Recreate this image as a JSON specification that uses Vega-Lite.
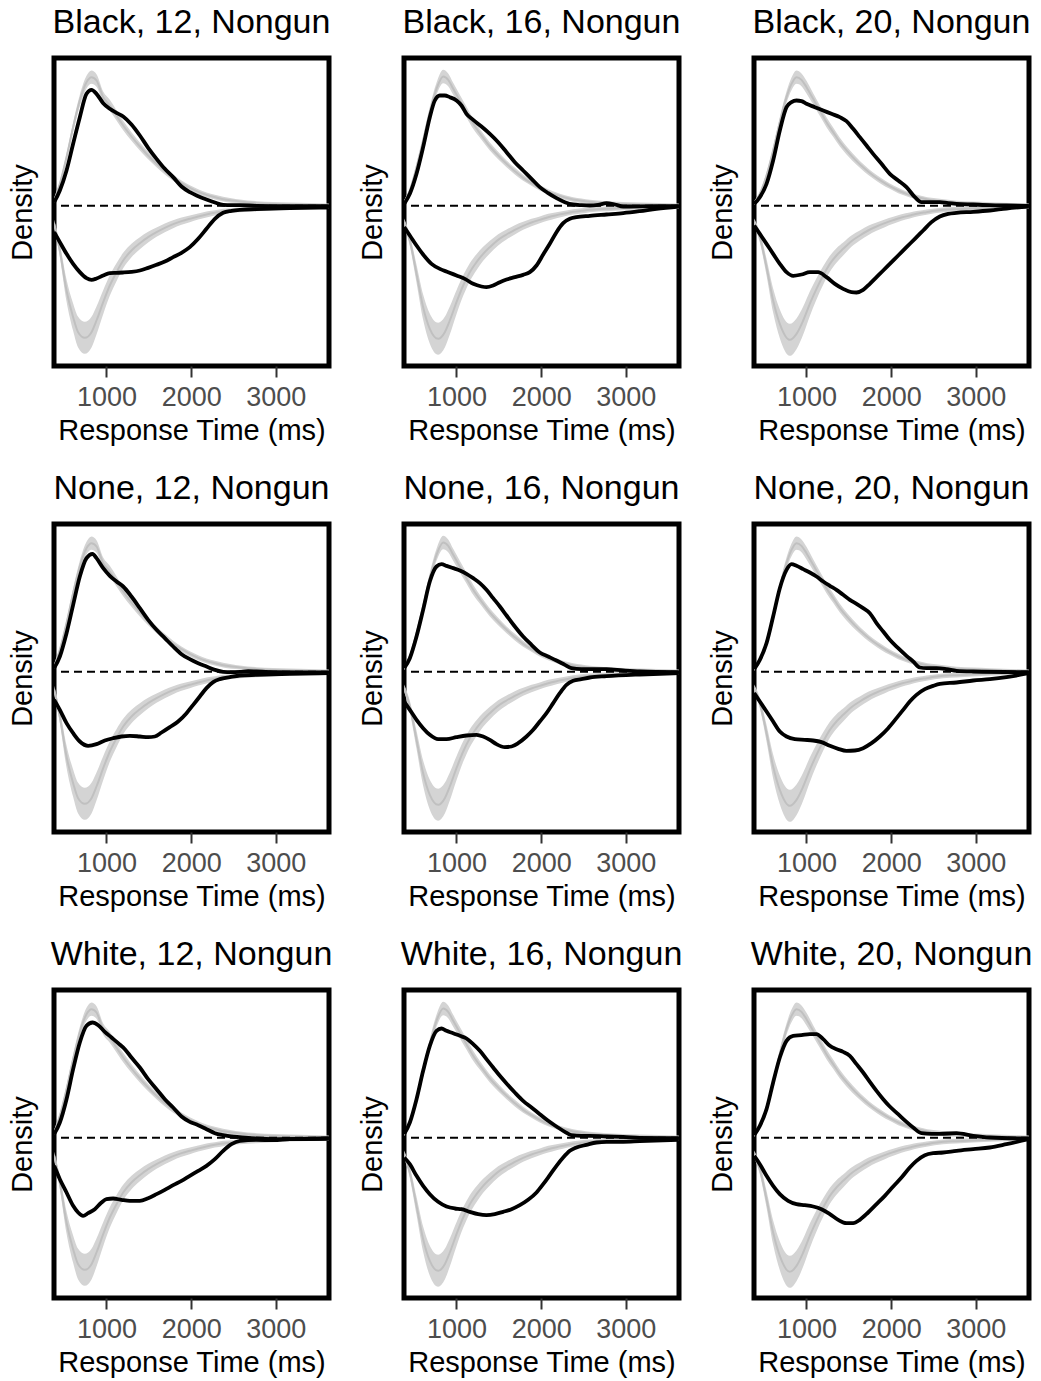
{
"$schema":"https://vega.github.io/schema/vega-lite/v6.json",
"background":"white",
"padding":{"left":5,"top":3,"right":5,"bottom":5},
"data":{"values":[
{"p":["Black, 12, Nongun","None, 12, Nongun","White, 12, Nongun"],"s":"mU","x":382,"y":0.016,"lo":0.009,"hi":0.023},
{"p":["Black, 12, Nongun","None, 12, Nongun","White, 12, Nongun"],"s":"mU","x":449,"y":0.066,"lo":0.058,"hi":0.074},
{"p":["Black, 12, Nongun","None, 12, Nongun","White, 12, Nongun"],"s":"mU","x":528,"y":0.146,"lo":0.135,"hi":0.157},
{"p":["Black, 12, Nongun","None, 12, Nongun","White, 12, Nongun"],"s":"mU","x":606,"y":0.236,"lo":0.222,"hi":0.250},
{"p":["Black, 12, Nongun","None, 12, Nongun","White, 12, Nongun"],"s":"mU","x":685,"y":0.316,"lo":0.299,"hi":0.333},
{"p":["Black, 12, Nongun","None, 12, Nongun","White, 12, Nongun"],"s":"mU","x":764,"y":0.371,"lo":0.352,"hi":0.390},
{"p":["Black, 12, Nongun","None, 12, Nongun","White, 12, Nongun"],"s":"mU","x":823,"y":0.386,"lo":0.366,"hi":0.406},
{"p":["Black, 12, Nongun","None, 12, Nongun","White, 12, Nongun"],"s":"mU","x":882,"y":0.376,"lo":0.357,"hi":0.395},
{"p":["Black, 12, Nongun","None, 12, Nongun","White, 12, Nongun"],"s":"mU","x":961,"y":0.326,"lo":0.309,"hi":0.343},
{"p":["Black, 12, Nongun","None, 12, Nongun","White, 12, Nongun"],"s":"mU","x":1039,"y":0.301,"lo":0.285,"hi":0.318},
{"p":["Black, 12, Nongun","None, 12, Nongun","White, 12, Nongun"],"s":"mU","x":1118,"y":0.271,"lo":0.256,"hi":0.287},
{"p":["Black, 12, Nongun","None, 12, Nongun","White, 12, Nongun"],"s":"mU","x":1197,"y":0.241,"lo":0.227,"hi":0.255},
{"p":["Black, 12, Nongun","None, 12, Nongun","White, 12, Nongun"],"s":"mU","x":1295,"y":0.208,"lo":0.195,"hi":0.221},
{"p":["Black, 12, Nongun","None, 12, Nongun","White, 12, Nongun"],"s":"mU","x":1394,"y":0.178,"lo":0.166,"hi":0.190},
{"p":["Black, 12, Nongun","None, 12, Nongun","White, 12, Nongun"],"s":"mU","x":1492,"y":0.151,"lo":0.140,"hi":0.162},
{"p":["Black, 12, Nongun","None, 12, Nongun","White, 12, Nongun"],"s":"mU","x":1591,"y":0.126,"lo":0.116,"hi":0.136},
{"p":["Black, 12, Nongun","None, 12, Nongun","White, 12, Nongun"],"s":"mU","x":1689,"y":0.104,"lo":0.094,"hi":0.114},
{"p":["Black, 12, Nongun","None, 12, Nongun","White, 12, Nongun"],"s":"mU","x":1787,"y":0.084,"lo":0.075,"hi":0.093},
{"p":["Black, 12, Nongun","None, 12, Nongun","White, 12, Nongun"],"s":"mU","x":1886,"y":0.068,"lo":0.060,"hi":0.076},
{"p":["Black, 12, Nongun","None, 12, Nongun","White, 12, Nongun"],"s":"mU","x":1984,"y":0.054,"lo":0.046,"hi":0.062},
{"p":["Black, 12, Nongun","None, 12, Nongun","White, 12, Nongun"],"s":"mU","x":2083,"y":0.042,"lo":0.035,"hi":0.050},
{"p":["Black, 12, Nongun","None, 12, Nongun","White, 12, Nongun"],"s":"mU","x":2181,"y":0.033,"lo":0.026,"hi":0.040},
{"p":["Black, 12, Nongun","None, 12, Nongun","White, 12, Nongun"],"s":"mU","x":2280,"y":0.026,"lo":0.019,"hi":0.033},
{"p":["Black, 12, Nongun","None, 12, Nongun","White, 12, Nongun"],"s":"mU","x":2378,"y":0.020,"lo":0.013,"hi":0.027},
{"p":["Black, 12, Nongun","None, 12, Nongun","White, 12, Nongun"],"s":"mU","x":2476,"y":0.016,"lo":0.009,"hi":0.023},
{"p":["Black, 12, Nongun","None, 12, Nongun","White, 12, Nongun"],"s":"mU","x":2575,"y":0.013,"lo":0.007,"hi":0.019},
{"p":["Black, 12, Nongun","None, 12, Nongun","White, 12, Nongun"],"s":"mU","x":2772,"y":0.008,"lo":0.002,"hi":0.014},
{"p":["Black, 12, Nongun","None, 12, Nongun","White, 12, Nongun"],"s":"mU","x":3165,"y":0.004,"lo":-0.002,"hi":0.010},
{"p":["Black, 12, Nongun","None, 12, Nongun","White, 12, Nongun"],"s":"mU","x":3626,"y":0.001,"lo":-0.005,"hi":0.007},
{"p":["Black, 12, Nongun","None, 12, Nongun","White, 12, Nongun"],"s":"mL","x":382,"y":-0.054,"lo":-0.066,"hi":-0.042},
{"p":["Black, 12, Nongun","None, 12, Nongun","White, 12, Nongun"],"s":"mL","x":449,"y":-0.134,"lo":-0.154,"hi":-0.114},
{"p":["Black, 12, Nongun","None, 12, Nongun","White, 12, Nongun"],"s":"mL","x":528,"y":-0.254,"lo":-0.287,"hi":-0.221},
{"p":["Black, 12, Nongun","None, 12, Nongun","White, 12, Nongun"],"s":"mL","x":606,"y":-0.334,"lo":-0.375,"hi":-0.293},
{"p":["Black, 12, Nongun","None, 12, Nongun","White, 12, Nongun"],"s":"mL","x":665,"y":-0.379,"lo":-0.425,"hi":-0.333},
{"p":["Black, 12, Nongun","None, 12, Nongun","White, 12, Nongun"],"s":"mL","x":744,"y":-0.396,"lo":-0.444,"hi":-0.348},
{"p":["Black, 12, Nongun","None, 12, Nongun","White, 12, Nongun"],"s":"mL","x":823,"y":-0.379,"lo":-0.425,"hi":-0.333},
{"p":["Black, 12, Nongun","None, 12, Nongun","White, 12, Nongun"],"s":"mL","x":882,"y":-0.344,"lo":-0.386,"hi":-0.302},
{"p":["Black, 12, Nongun","None, 12, Nongun","White, 12, Nongun"],"s":"mL","x":961,"y":-0.289,"lo":-0.325,"hi":-0.253},
{"p":["Black, 12, Nongun","None, 12, Nongun","White, 12, Nongun"],"s":"mL","x":1039,"y":-0.239,"lo":-0.270,"hi":-0.208},
{"p":["Black, 12, Nongun","None, 12, Nongun","White, 12, Nongun"],"s":"mL","x":1118,"y":-0.199,"lo":-0.226,"hi":-0.172},
{"p":["Black, 12, Nongun","None, 12, Nongun","White, 12, Nongun"],"s":"mL","x":1197,"y":-0.164,"lo":-0.187,"hi":-0.141},
{"p":["Black, 12, Nongun","None, 12, Nongun","White, 12, Nongun"],"s":"mL","x":1295,"y":-0.134,"lo":-0.154,"hi":-0.114},
{"p":["Black, 12, Nongun","None, 12, Nongun","White, 12, Nongun"],"s":"mL","x":1394,"y":-0.112,"lo":-0.130,"hi":-0.094},
{"p":["Black, 12, Nongun","None, 12, Nongun","White, 12, Nongun"],"s":"mL","x":1492,"y":-0.094,"lo":-0.110,"hi":-0.078},
{"p":["Black, 12, Nongun","None, 12, Nongun","White, 12, Nongun"],"s":"mL","x":1591,"y":-0.079,"lo":-0.093,"hi":-0.065},
{"p":["Black, 12, Nongun","None, 12, Nongun","White, 12, Nongun"],"s":"mL","x":1689,"y":-0.066,"lo":-0.079,"hi":-0.053},
{"p":["Black, 12, Nongun","None, 12, Nongun","White, 12, Nongun"],"s":"mL","x":1787,"y":-0.055,"lo":-0.067,"hi":-0.043},
{"p":["Black, 12, Nongun","None, 12, Nongun","White, 12, Nongun"],"s":"mL","x":1886,"y":-0.046,"lo":-0.057,"hi":-0.035},
{"p":["Black, 12, Nongun","None, 12, Nongun","White, 12, Nongun"],"s":"mL","x":1984,"y":-0.039,"lo":-0.049,"hi":-0.029},
{"p":["Black, 12, Nongun","None, 12, Nongun","White, 12, Nongun"],"s":"mL","x":2083,"y":-0.032,"lo":-0.041,"hi":-0.023},
{"p":["Black, 12, Nongun","None, 12, Nongun","White, 12, Nongun"],"s":"mL","x":2181,"y":-0.026,"lo":-0.035,"hi":-0.017},
{"p":["Black, 12, Nongun","None, 12, Nongun","White, 12, Nongun"],"s":"mL","x":2280,"y":-0.021,"lo":-0.029,"hi":-0.013},
{"p":["Black, 12, Nongun","None, 12, Nongun","White, 12, Nongun"],"s":"mL","x":2378,"y":-0.017,"lo":-0.025,"hi":-0.009},
{"p":["Black, 12, Nongun","None, 12, Nongun","White, 12, Nongun"],"s":"mL","x":2476,"y":-0.014,"lo":-0.021,"hi":-0.007},
{"p":["Black, 12, Nongun","None, 12, Nongun","White, 12, Nongun"],"s":"mL","x":2575,"y":-0.012,"lo":-0.019,"hi":-0.005},
{"p":["Black, 12, Nongun","None, 12, Nongun","White, 12, Nongun"],"s":"mL","x":2772,"y":-0.009,"lo":-0.016,"hi":-0.002},
{"p":["Black, 12, Nongun","None, 12, Nongun","White, 12, Nongun"],"s":"mL","x":3165,"y":-0.005,"lo":-0.011,"hi":0.001},
{"p":["Black, 12, Nongun","None, 12, Nongun","White, 12, Nongun"],"s":"mL","x":3626,"y":-0.003,"lo":-0.009,"hi":0.003},
{"p":["Black, 16, Nongun","None, 16, Nongun","White, 16, Nongun"],"s":"mU","x":382,"y":0.011,"lo":0.005,"hi":0.017},
{"p":["Black, 16, Nongun","None, 16, Nongun","White, 16, Nongun"],"s":"mU","x":449,"y":0.046,"lo":0.038,"hi":0.054},
{"p":["Black, 16, Nongun","None, 16, Nongun","White, 16, Nongun"],"s":"mU","x":528,"y":0.116,"lo":0.106,"hi":0.126},
{"p":["Black, 16, Nongun","None, 16, Nongun","White, 16, Nongun"],"s":"mU","x":606,"y":0.196,"lo":0.183,"hi":0.209},
{"p":["Black, 16, Nongun","None, 16, Nongun","White, 16, Nongun"],"s":"mU","x":685,"y":0.281,"lo":0.265,"hi":0.297},
{"p":["Black, 16, Nongun","None, 16, Nongun","White, 16, Nongun"],"s":"mU","x":764,"y":0.351,"lo":0.333,"hi":0.369},
{"p":["Black, 16, Nongun","None, 16, Nongun","White, 16, Nongun"],"s":"mU","x":843,"y":0.388,"lo":0.368,"hi":0.408},
{"p":["Black, 16, Nongun","None, 16, Nongun","White, 16, Nongun"],"s":"mU","x":902,"y":0.378,"lo":0.359,"hi":0.397},
{"p":["Black, 16, Nongun","None, 16, Nongun","White, 16, Nongun"],"s":"mU","x":961,"y":0.351,"lo":0.333,"hi":0.369},
{"p":["Black, 16, Nongun","None, 16, Nongun","White, 16, Nongun"],"s":"mU","x":1039,"y":0.316,"lo":0.299,"hi":0.333},
{"p":["Black, 16, Nongun","None, 16, Nongun","White, 16, Nongun"],"s":"mU","x":1118,"y":0.281,"lo":0.265,"hi":0.297},
{"p":["Black, 16, Nongun","None, 16, Nongun","White, 16, Nongun"],"s":"mU","x":1197,"y":0.246,"lo":0.231,"hi":0.261},
{"p":["Black, 16, Nongun","None, 16, Nongun","White, 16, Nongun"],"s":"mU","x":1295,"y":0.211,"lo":0.198,"hi":0.224},
{"p":["Black, 16, Nongun","None, 16, Nongun","White, 16, Nongun"],"s":"mU","x":1394,"y":0.178,"lo":0.166,"hi":0.190},
{"p":["Black, 16, Nongun","None, 16, Nongun","White, 16, Nongun"],"s":"mU","x":1492,"y":0.151,"lo":0.140,"hi":0.162},
{"p":["Black, 16, Nongun","None, 16, Nongun","White, 16, Nongun"],"s":"mU","x":1591,"y":0.126,"lo":0.116,"hi":0.136},
{"p":["Black, 16, Nongun","None, 16, Nongun","White, 16, Nongun"],"s":"mU","x":1689,"y":0.104,"lo":0.094,"hi":0.114},
{"p":["Black, 16, Nongun","None, 16, Nongun","White, 16, Nongun"],"s":"mU","x":1787,"y":0.084,"lo":0.075,"hi":0.093},
{"p":["Black, 16, Nongun","None, 16, Nongun","White, 16, Nongun"],"s":"mU","x":1886,"y":0.068,"lo":0.060,"hi":0.076},
{"p":["Black, 16, Nongun","None, 16, Nongun","White, 16, Nongun"],"s":"mU","x":1984,"y":0.054,"lo":0.046,"hi":0.062},
{"p":["Black, 16, Nongun","None, 16, Nongun","White, 16, Nongun"],"s":"mU","x":2083,"y":0.042,"lo":0.035,"hi":0.050},
{"p":["Black, 16, Nongun","None, 16, Nongun","White, 16, Nongun"],"s":"mU","x":2181,"y":0.033,"lo":0.026,"hi":0.040},
{"p":["Black, 16, Nongun","None, 16, Nongun","White, 16, Nongun"],"s":"mU","x":2280,"y":0.025,"lo":0.018,"hi":0.032},
{"p":["Black, 16, Nongun","None, 16, Nongun","White, 16, Nongun"],"s":"mU","x":2378,"y":0.019,"lo":0.012,"hi":0.026},
{"p":["Black, 16, Nongun","None, 16, Nongun","White, 16, Nongun"],"s":"mU","x":2476,"y":0.015,"lo":0.008,"hi":0.022},
{"p":["Black, 16, Nongun","None, 16, Nongun","White, 16, Nongun"],"s":"mU","x":2575,"y":0.012,"lo":0.006,"hi":0.018},
{"p":["Black, 16, Nongun","None, 16, Nongun","White, 16, Nongun"],"s":"mU","x":2772,"y":0.008,"lo":0.002,"hi":0.014},
{"p":["Black, 16, Nongun","None, 16, Nongun","White, 16, Nongun"],"s":"mU","x":3165,"y":0.004,"lo":-0.002,"hi":0.010},
{"p":["Black, 16, Nongun","None, 16, Nongun","White, 16, Nongun"],"s":"mU","x":3626,"y":0.001,"lo":-0.005,"hi":0.007},
{"p":["Black, 16, Nongun","None, 16, Nongun","White, 16, Nongun"],"s":"mL","x":382,"y":-0.049,"lo":-0.060,"hi":-0.038},
{"p":["Black, 16, Nongun","None, 16, Nongun","White, 16, Nongun"],"s":"mL","x":449,"y":-0.104,"lo":-0.121,"hi":-0.087},
{"p":["Black, 16, Nongun","None, 16, Nongun","White, 16, Nongun"],"s":"mL","x":528,"y":-0.204,"lo":-0.231,"hi":-0.177},
{"p":["Black, 16, Nongun","None, 16, Nongun","White, 16, Nongun"],"s":"mL","x":606,"y":-0.304,"lo":-0.342,"hi":-0.266},
{"p":["Black, 16, Nongun","None, 16, Nongun","White, 16, Nongun"],"s":"mL","x":685,"y":-0.369,"lo":-0.414,"hi":-0.324},
{"p":["Black, 16, Nongun","None, 16, Nongun","White, 16, Nongun"],"s":"mL","x":783,"y":-0.399,"lo":-0.447,"hi":-0.351},
{"p":["Black, 16, Nongun","None, 16, Nongun","White, 16, Nongun"],"s":"mL","x":862,"y":-0.379,"lo":-0.425,"hi":-0.333},
{"p":["Black, 16, Nongun","None, 16, Nongun","White, 16, Nongun"],"s":"mL","x":921,"y":-0.344,"lo":-0.386,"hi":-0.302},
{"p":["Black, 16, Nongun","None, 16, Nongun","White, 16, Nongun"],"s":"mL","x":1000,"y":-0.289,"lo":-0.325,"hi":-0.253},
{"p":["Black, 16, Nongun","None, 16, Nongun","White, 16, Nongun"],"s":"mL","x":1079,"y":-0.239,"lo":-0.270,"hi":-0.208},
{"p":["Black, 16, Nongun","None, 16, Nongun","White, 16, Nongun"],"s":"mL","x":1157,"y":-0.199,"lo":-0.226,"hi":-0.172},
{"p":["Black, 16, Nongun","None, 16, Nongun","White, 16, Nongun"],"s":"mL","x":1236,"y":-0.169,"lo":-0.193,"hi":-0.145},
{"p":["Black, 16, Nongun","None, 16, Nongun","White, 16, Nongun"],"s":"mL","x":1315,"y":-0.144,"lo":-0.165,"hi":-0.123},
{"p":["Black, 16, Nongun","None, 16, Nongun","White, 16, Nongun"],"s":"mL","x":1394,"y":-0.124,"lo":-0.143,"hi":-0.105},
{"p":["Black, 16, Nongun","None, 16, Nongun","White, 16, Nongun"],"s":"mL","x":1492,"y":-0.102,"lo":-0.119,"hi":-0.085},
{"p":["Black, 16, Nongun","None, 16, Nongun","White, 16, Nongun"],"s":"mL","x":1591,"y":-0.086,"lo":-0.101,"hi":-0.071},
{"p":["Black, 16, Nongun","None, 16, Nongun","White, 16, Nongun"],"s":"mL","x":1689,"y":-0.072,"lo":-0.086,"hi":-0.058},
{"p":["Black, 16, Nongun","None, 16, Nongun","White, 16, Nongun"],"s":"mL","x":1787,"y":-0.060,"lo":-0.072,"hi":-0.048},
{"p":["Black, 16, Nongun","None, 16, Nongun","White, 16, Nongun"],"s":"mL","x":1886,"y":-0.050,"lo":-0.061,"hi":-0.039},
{"p":["Black, 16, Nongun","None, 16, Nongun","White, 16, Nongun"],"s":"mL","x":1984,"y":-0.042,"lo":-0.052,"hi":-0.032},
{"p":["Black, 16, Nongun","None, 16, Nongun","White, 16, Nongun"],"s":"mL","x":2083,"y":-0.034,"lo":-0.044,"hi":-0.024},
{"p":["Black, 16, Nongun","None, 16, Nongun","White, 16, Nongun"],"s":"mL","x":2181,"y":-0.028,"lo":-0.037,"hi":-0.019},
{"p":["Black, 16, Nongun","None, 16, Nongun","White, 16, Nongun"],"s":"mL","x":2280,"y":-0.023,"lo":-0.031,"hi":-0.015},
{"p":["Black, 16, Nongun","None, 16, Nongun","White, 16, Nongun"],"s":"mL","x":2378,"y":-0.018,"lo":-0.026,"hi":-0.010},
{"p":["Black, 16, Nongun","None, 16, Nongun","White, 16, Nongun"],"s":"mL","x":2476,"y":-0.015,"lo":-0.023,"hi":-0.007},
{"p":["Black, 16, Nongun","None, 16, Nongun","White, 16, Nongun"],"s":"mL","x":2575,"y":-0.012,"lo":-0.019,"hi":-0.005},
{"p":["Black, 16, Nongun","None, 16, Nongun","White, 16, Nongun"],"s":"mL","x":2772,"y":-0.009,"lo":-0.016,"hi":-0.002},
{"p":["Black, 16, Nongun","None, 16, Nongun","White, 16, Nongun"],"s":"mL","x":3165,"y":-0.005,"lo":-0.011,"hi":0.001},
{"p":["Black, 16, Nongun","None, 16, Nongun","White, 16, Nongun"],"s":"mL","x":3626,"y":-0.003,"lo":-0.009,"hi":0.003},
{"p":["Black, 20, Nongun","None, 20, Nongun","White, 20, Nongun"],"s":"mU","x":382,"y":0.008,"lo":0.002,"hi":0.014},
{"p":["Black, 20, Nongun","None, 20, Nongun","White, 20, Nongun"],"s":"mU","x":449,"y":0.036,"lo":0.029,"hi":0.043},
{"p":["Black, 20, Nongun","None, 20, Nongun","White, 20, Nongun"],"s":"mU","x":528,"y":0.091,"lo":0.082,"hi":0.100},
{"p":["Black, 20, Nongun","None, 20, Nongun","White, 20, Nongun"],"s":"mU","x":606,"y":0.166,"lo":0.154,"hi":0.178},
{"p":["Black, 20, Nongun","None, 20, Nongun","White, 20, Nongun"],"s":"mU","x":685,"y":0.251,"lo":0.236,"hi":0.266},
{"p":["Black, 20, Nongun","None, 20, Nongun","White, 20, Nongun"],"s":"mU","x":764,"y":0.326,"lo":0.309,"hi":0.343},
{"p":["Black, 20, Nongun","None, 20, Nongun","White, 20, Nongun"],"s":"mU","x":823,"y":0.366,"lo":0.347,"hi":0.385},
{"p":["Black, 20, Nongun","None, 20, Nongun","White, 20, Nongun"],"s":"mU","x":882,"y":0.386,"lo":0.366,"hi":0.406},
{"p":["Black, 20, Nongun","None, 20, Nongun","White, 20, Nongun"],"s":"mU","x":941,"y":0.378,"lo":0.359,"hi":0.397},
{"p":["Black, 20, Nongun","None, 20, Nongun","White, 20, Nongun"],"s":"mU","x":1000,"y":0.356,"lo":0.337,"hi":0.375},
{"p":["Black, 20, Nongun","None, 20, Nongun","White, 20, Nongun"],"s":"mU","x":1079,"y":0.321,"lo":0.304,"hi":0.338},
{"p":["Black, 20, Nongun","None, 20, Nongun","White, 20, Nongun"],"s":"mU","x":1157,"y":0.286,"lo":0.270,"hi":0.302},
{"p":["Black, 20, Nongun","None, 20, Nongun","White, 20, Nongun"],"s":"mU","x":1236,"y":0.251,"lo":0.236,"hi":0.266},
{"p":["Black, 20, Nongun","None, 20, Nongun","White, 20, Nongun"],"s":"mU","x":1315,"y":0.221,"lo":0.207,"hi":0.235},
{"p":["Black, 20, Nongun","None, 20, Nongun","White, 20, Nongun"],"s":"mU","x":1394,"y":0.191,"lo":0.178,"hi":0.204},
{"p":["Black, 20, Nongun","None, 20, Nongun","White, 20, Nongun"],"s":"mU","x":1492,"y":0.161,"lo":0.149,"hi":0.173},
{"p":["Black, 20, Nongun","None, 20, Nongun","White, 20, Nongun"],"s":"mU","x":1591,"y":0.134,"lo":0.123,"hi":0.145},
{"p":["Black, 20, Nongun","None, 20, Nongun","White, 20, Nongun"],"s":"mU","x":1689,"y":0.111,"lo":0.101,"hi":0.121},
{"p":["Black, 20, Nongun","None, 20, Nongun","White, 20, Nongun"],"s":"mU","x":1787,"y":0.091,"lo":0.082,"hi":0.100},
{"p":["Black, 20, Nongun","None, 20, Nongun","White, 20, Nongun"],"s":"mU","x":1886,"y":0.074,"lo":0.065,"hi":0.083},
{"p":["Black, 20, Nongun","None, 20, Nongun","White, 20, Nongun"],"s":"mU","x":1984,"y":0.059,"lo":0.051,"hi":0.067},
{"p":["Black, 20, Nongun","None, 20, Nongun","White, 20, Nongun"],"s":"mU","x":2083,"y":0.046,"lo":0.038,"hi":0.054},
{"p":["Black, 20, Nongun","None, 20, Nongun","White, 20, Nongun"],"s":"mU","x":2181,"y":0.036,"lo":0.029,"hi":0.043},
{"p":["Black, 20, Nongun","None, 20, Nongun","White, 20, Nongun"],"s":"mU","x":2280,"y":0.028,"lo":0.021,"hi":0.035},
{"p":["Black, 20, Nongun","None, 20, Nongun","White, 20, Nongun"],"s":"mU","x":2378,"y":0.022,"lo":0.015,"hi":0.029},
{"p":["Black, 20, Nongun","None, 20, Nongun","White, 20, Nongun"],"s":"mU","x":2476,"y":0.017,"lo":0.010,"hi":0.024},
{"p":["Black, 20, Nongun","None, 20, Nongun","White, 20, Nongun"],"s":"mU","x":2575,"y":0.014,"lo":0.007,"hi":0.021},
{"p":["Black, 20, Nongun","None, 20, Nongun","White, 20, Nongun"],"s":"mU","x":2772,"y":0.009,"lo":0.003,"hi":0.015},
{"p":["Black, 20, Nongun","None, 20, Nongun","White, 20, Nongun"],"s":"mU","x":3165,"y":0.005,"lo":-0.001,"hi":0.011},
{"p":["Black, 20, Nongun","None, 20, Nongun","White, 20, Nongun"],"s":"mU","x":3626,"y":0.001,"lo":-0.005,"hi":0.007},
{"p":["Black, 20, Nongun","None, 20, Nongun","White, 20, Nongun"],"s":"mL","x":382,"y":-0.049,"lo":-0.060,"hi":-0.038},
{"p":["Black, 20, Nongun","None, 20, Nongun","White, 20, Nongun"],"s":"mL","x":449,"y":-0.094,"lo":-0.110,"hi":-0.078},
{"p":["Black, 20, Nongun","None, 20, Nongun","White, 20, Nongun"],"s":"mL","x":528,"y":-0.184,"lo":-0.209,"hi":-0.159},
{"p":["Black, 20, Nongun","None, 20, Nongun","White, 20, Nongun"],"s":"mL","x":606,"y":-0.284,"lo":-0.320,"hi":-0.248},
{"p":["Black, 20, Nongun","None, 20, Nongun","White, 20, Nongun"],"s":"mL","x":685,"y":-0.354,"lo":-0.397,"hi":-0.311},
{"p":["Black, 20, Nongun","None, 20, Nongun","White, 20, Nongun"],"s":"mL","x":803,"y":-0.402,"lo":-0.450,"hi":-0.354},
{"p":["Black, 20, Nongun","None, 20, Nongun","White, 20, Nongun"],"s":"mL","x":882,"y":-0.384,"lo":-0.430,"hi":-0.338},
{"p":["Black, 20, Nongun","None, 20, Nongun","White, 20, Nongun"],"s":"mL","x":961,"y":-0.344,"lo":-0.386,"hi":-0.302},
{"p":["Black, 20, Nongun","None, 20, Nongun","White, 20, Nongun"],"s":"mL","x":1039,"y":-0.294,"lo":-0.331,"hi":-0.257},
{"p":["Black, 20, Nongun","None, 20, Nongun","White, 20, Nongun"],"s":"mL","x":1118,"y":-0.249,"lo":-0.281,"hi":-0.217},
{"p":["Black, 20, Nongun","None, 20, Nongun","White, 20, Nongun"],"s":"mL","x":1197,"y":-0.209,"lo":-0.237,"hi":-0.181},
{"p":["Black, 20, Nongun","None, 20, Nongun","White, 20, Nongun"],"s":"mL","x":1276,"y":-0.174,"lo":-0.198,"hi":-0.150},
{"p":["Black, 20, Nongun","None, 20, Nongun","White, 20, Nongun"],"s":"mL","x":1354,"y":-0.149,"lo":-0.171,"hi":-0.127},
{"p":["Black, 20, Nongun","None, 20, Nongun","White, 20, Nongun"],"s":"mL","x":1433,"y":-0.129,"lo":-0.149,"hi":-0.110},
{"p":["Black, 20, Nongun","None, 20, Nongun","White, 20, Nongun"],"s":"mL","x":1531,"y":-0.106,"lo":-0.123,"hi":-0.089},
{"p":["Black, 20, Nongun","None, 20, Nongun","White, 20, Nongun"],"s":"mL","x":1630,"y":-0.089,"lo":-0.104,"hi":-0.074},
{"p":["Black, 20, Nongun","None, 20, Nongun","White, 20, Nongun"],"s":"mL","x":1728,"y":-0.074,"lo":-0.088,"hi":-0.060},
{"p":["Black, 20, Nongun","None, 20, Nongun","White, 20, Nongun"],"s":"mL","x":1827,"y":-0.062,"lo":-0.075,"hi":-0.050},
{"p":["Black, 20, Nongun","None, 20, Nongun","White, 20, Nongun"],"s":"mL","x":1925,"y":-0.052,"lo":-0.064,"hi":-0.041},
{"p":["Black, 20, Nongun","None, 20, Nongun","White, 20, Nongun"],"s":"mL","x":2024,"y":-0.043,"lo":-0.054,"hi":-0.033},
{"p":["Black, 20, Nongun","None, 20, Nongun","White, 20, Nongun"],"s":"mL","x":2122,"y":-0.035,"lo":-0.045,"hi":-0.025},
{"p":["Black, 20, Nongun","None, 20, Nongun","White, 20, Nongun"],"s":"mL","x":2220,"y":-0.029,"lo":-0.038,"hi":-0.020},
{"p":["Black, 20, Nongun","None, 20, Nongun","White, 20, Nongun"],"s":"mL","x":2319,"y":-0.023,"lo":-0.031,"hi":-0.015},
{"p":["Black, 20, Nongun","None, 20, Nongun","White, 20, Nongun"],"s":"mL","x":2417,"y":-0.019,"lo":-0.027,"hi":-0.011},
{"p":["Black, 20, Nongun","None, 20, Nongun","White, 20, Nongun"],"s":"mL","x":2516,"y":-0.015,"lo":-0.022,"hi":-0.008},
{"p":["Black, 20, Nongun","None, 20, Nongun","White, 20, Nongun"],"s":"mL","x":2614,"y":-0.012,"lo":-0.019,"hi":-0.005},
{"p":["Black, 20, Nongun","None, 20, Nongun","White, 20, Nongun"],"s":"mL","x":2772,"y":-0.010,"lo":-0.017,"hi":-0.003},
{"p":["Black, 20, Nongun","None, 20, Nongun","White, 20, Nongun"],"s":"mL","x":3165,"y":-0.006,"lo":-0.012,"hi":0.000},
{"p":["Black, 20, Nongun","None, 20, Nongun","White, 20, Nongun"],"s":"mL","x":3626,"y":-0.003,"lo":-0.009,"hi":0.003},
{"p":["Black, 12, Nongun"],"s":"oU","x":382,"y":0.011},
{"p":["Black, 12, Nongun"],"s":"oU","x":449,"y":0.046},
{"p":["Black, 12, Nongun"],"s":"oU","x":528,"y":0.106},
{"p":["Black, 12, Nongun"],"s":"oU","x":606,"y":0.186},
{"p":["Black, 12, Nongun"],"s":"oU","x":685,"y":0.266},
{"p":["Black, 12, Nongun"],"s":"oU","x":764,"y":0.336},
{"p":["Black, 12, Nongun"],"s":"oU","x":823,"y":0.348},
{"p":["Black, 12, Nongun"],"s":"oU","x":882,"y":0.336},
{"p":["Black, 12, Nongun"],"s":"oU","x":961,"y":0.308},
{"p":["Black, 12, Nongun"],"s":"oU","x":1039,"y":0.291},
{"p":["Black, 12, Nongun"],"s":"oU","x":1118,"y":0.279},
{"p":["Black, 12, Nongun"],"s":"oU","x":1197,"y":0.268},
{"p":["Black, 12, Nongun"],"s":"oU","x":1295,"y":0.244},
{"p":["Black, 12, Nongun"],"s":"oU","x":1394,"y":0.211},
{"p":["Black, 12, Nongun"],"s":"oU","x":1492,"y":0.174},
{"p":["Black, 12, Nongun"],"s":"oU","x":1591,"y":0.141},
{"p":["Black, 12, Nongun"],"s":"oU","x":1689,"y":0.111},
{"p":["Black, 12, Nongun"],"s":"oU","x":1787,"y":0.086},
{"p":["Black, 12, Nongun"],"s":"oU","x":1886,"y":0.058},
{"p":["Black, 12, Nongun"],"s":"oU","x":1984,"y":0.041},
{"p":["Black, 12, Nongun"],"s":"oU","x":2083,"y":0.029},
{"p":["Black, 12, Nongun"],"s":"oU","x":2181,"y":0.019},
{"p":["Black, 12, Nongun"],"s":"oU","x":2280,"y":0.010},
{"p":["Black, 12, Nongun"],"s":"oU","x":2378,"y":0.003},
{"p":["Black, 12, Nongun"],"s":"oU","x":2476,"y":0.002},
{"p":["Black, 12, Nongun"],"s":"oU","x":2575,"y":0.002},
{"p":["Black, 12, Nongun"],"s":"oU","x":2772,"y":0.000},
{"p":["Black, 12, Nongun"],"s":"oU","x":3165,"y":-0.001},
{"p":["Black, 12, Nongun"],"s":"oU","x":3626,"y":-0.001},
{"p":["Black, 12, Nongun"],"s":"oL","x":382,"y":-0.079},
{"p":["Black, 12, Nongun"],"s":"oL","x":449,"y":-0.109},
{"p":["Black, 12, Nongun"],"s":"oL","x":528,"y":-0.144},
{"p":["Black, 12, Nongun"],"s":"oL","x":606,"y":-0.174},
{"p":["Black, 12, Nongun"],"s":"oL","x":685,"y":-0.199},
{"p":["Black, 12, Nongun"],"s":"oL","x":764,"y":-0.217},
{"p":["Black, 12, Nongun"],"s":"oL","x":823,"y":-0.222},
{"p":["Black, 12, Nongun"],"s":"oL","x":882,"y":-0.218},
{"p":["Black, 12, Nongun"],"s":"oL","x":961,"y":-0.209},
{"p":["Black, 12, Nongun"],"s":"oL","x":1039,"y":-0.202},
{"p":["Black, 12, Nongun"],"s":"oL","x":1118,"y":-0.201},
{"p":["Black, 12, Nongun"],"s":"oL","x":1197,"y":-0.200},
{"p":["Black, 12, Nongun"],"s":"oL","x":1295,"y":-0.198},
{"p":["Black, 12, Nongun"],"s":"oL","x":1394,"y":-0.194},
{"p":["Black, 12, Nongun"],"s":"oL","x":1492,"y":-0.186},
{"p":["Black, 12, Nongun"],"s":"oL","x":1591,"y":-0.177},
{"p":["Black, 12, Nongun"],"s":"oL","x":1689,"y":-0.167},
{"p":["Black, 12, Nongun"],"s":"oL","x":1787,"y":-0.154},
{"p":["Black, 12, Nongun"],"s":"oL","x":1886,"y":-0.141},
{"p":["Black, 12, Nongun"],"s":"oL","x":1984,"y":-0.124},
{"p":["Black, 12, Nongun"],"s":"oL","x":2083,"y":-0.099},
{"p":["Black, 12, Nongun"],"s":"oL","x":2181,"y":-0.069},
{"p":["Black, 12, Nongun"],"s":"oL","x":2280,"y":-0.039},
{"p":["Black, 12, Nongun"],"s":"oL","x":2378,"y":-0.021},
{"p":["Black, 12, Nongun"],"s":"oL","x":2476,"y":-0.015},
{"p":["Black, 12, Nongun"],"s":"oL","x":2575,"y":-0.012},
{"p":["Black, 12, Nongun"],"s":"oL","x":2772,"y":-0.010},
{"p":["Black, 12, Nongun"],"s":"oL","x":3165,"y":-0.007},
{"p":["Black, 12, Nongun"],"s":"oL","x":3626,"y":-0.005},
{"p":["Black, 16, Nongun"],"s":"oU","x":382,"y":0.006},
{"p":["Black, 16, Nongun"],"s":"oU","x":449,"y":0.036},
{"p":["Black, 16, Nongun"],"s":"oU","x":528,"y":0.096},
{"p":["Black, 16, Nongun"],"s":"oU","x":606,"y":0.176},
{"p":["Black, 16, Nongun"],"s":"oU","x":685,"y":0.266},
{"p":["Black, 16, Nongun"],"s":"oU","x":744,"y":0.316},
{"p":["Black, 16, Nongun"],"s":"oU","x":803,"y":0.331},
{"p":["Black, 16, Nongun"],"s":"oU","x":862,"y":0.331},
{"p":["Black, 16, Nongun"],"s":"oU","x":921,"y":0.326},
{"p":["Black, 16, Nongun"],"s":"oU","x":1000,"y":0.316},
{"p":["Black, 16, Nongun"],"s":"oU","x":1059,"y":0.301},
{"p":["Black, 16, Nongun"],"s":"oU","x":1118,"y":0.276},
{"p":["Black, 16, Nongun"],"s":"oU","x":1197,"y":0.258},
{"p":["Black, 16, Nongun"],"s":"oU","x":1295,"y":0.238},
{"p":["Black, 16, Nongun"],"s":"oU","x":1394,"y":0.216},
{"p":["Black, 16, Nongun"],"s":"oU","x":1492,"y":0.191},
{"p":["Black, 16, Nongun"],"s":"oU","x":1591,"y":0.161},
{"p":["Black, 16, Nongun"],"s":"oU","x":1689,"y":0.131},
{"p":["Black, 16, Nongun"],"s":"oU","x":1787,"y":0.106},
{"p":["Black, 16, Nongun"],"s":"oU","x":1886,"y":0.081},
{"p":["Black, 16, Nongun"],"s":"oU","x":1984,"y":0.056},
{"p":["Black, 16, Nongun"],"s":"oU","x":2083,"y":0.038},
{"p":["Black, 16, Nongun"],"s":"oU","x":2181,"y":0.023},
{"p":["Black, 16, Nongun"],"s":"oU","x":2280,"y":0.011},
{"p":["Black, 16, Nongun"],"s":"oU","x":2378,"y":0.004},
{"p":["Black, 16, Nongun"],"s":"oU","x":2476,"y":0.002},
{"p":["Black, 16, Nongun"],"s":"oU","x":2575,"y":0.001},
{"p":["Black, 16, Nongun"],"s":"oU","x":2673,"y":0.003},
{"p":["Black, 16, Nongun"],"s":"oU","x":2772,"y":0.008},
{"p":["Black, 16, Nongun"],"s":"oU","x":2870,"y":0.004},
{"p":["Black, 16, Nongun"],"s":"oU","x":2969,"y":-0.002},
{"p":["Black, 16, Nongun"],"s":"oU","x":3362,"y":-0.001},
{"p":["Black, 16, Nongun"],"s":"oU","x":3626,"y":-0.001},
{"p":["Black, 16, Nongun"],"s":"oL","x":382,"y":-0.064},
{"p":["Black, 16, Nongun"],"s":"oL","x":449,"y":-0.089},
{"p":["Black, 16, Nongun"],"s":"oL","x":528,"y":-0.119},
{"p":["Black, 16, Nongun"],"s":"oL","x":606,"y":-0.146},
{"p":["Black, 16, Nongun"],"s":"oL","x":705,"y":-0.174},
{"p":["Black, 16, Nongun"],"s":"oL","x":803,"y":-0.189},
{"p":["Black, 16, Nongun"],"s":"oL","x":902,"y":-0.199},
{"p":["Black, 16, Nongun"],"s":"oL","x":1000,"y":-0.209},
{"p":["Black, 16, Nongun"],"s":"oL","x":1098,"y":-0.219},
{"p":["Black, 16, Nongun"],"s":"oL","x":1197,"y":-0.234},
{"p":["Black, 16, Nongun"],"s":"oL","x":1295,"y":-0.242},
{"p":["Black, 16, Nongun"],"s":"oL","x":1354,"y":-0.244},
{"p":["Black, 16, Nongun"],"s":"oL","x":1433,"y":-0.239},
{"p":["Black, 16, Nongun"],"s":"oL","x":1512,"y":-0.229},
{"p":["Black, 16, Nongun"],"s":"oL","x":1591,"y":-0.221},
{"p":["Black, 16, Nongun"],"s":"oL","x":1689,"y":-0.214},
{"p":["Black, 16, Nongun"],"s":"oL","x":1787,"y":-0.207},
{"p":["Black, 16, Nongun"],"s":"oL","x":1866,"y":-0.199},
{"p":["Black, 16, Nongun"],"s":"oL","x":1945,"y":-0.179},
{"p":["Black, 16, Nongun"],"s":"oL","x":2024,"y":-0.146},
{"p":["Black, 16, Nongun"],"s":"oL","x":2102,"y":-0.114},
{"p":["Black, 16, Nongun"],"s":"oL","x":2181,"y":-0.079},
{"p":["Black, 16, Nongun"],"s":"oL","x":2260,"y":-0.052},
{"p":["Black, 16, Nongun"],"s":"oL","x":2339,"y":-0.039},
{"p":["Black, 16, Nongun"],"s":"oL","x":2417,"y":-0.034},
{"p":["Black, 16, Nongun"],"s":"oL","x":2575,"y":-0.030},
{"p":["Black, 16, Nongun"],"s":"oL","x":2772,"y":-0.026},
{"p":["Black, 16, Nongun"],"s":"oL","x":2969,"y":-0.022},
{"p":["Black, 16, Nongun"],"s":"oL","x":3165,"y":-0.016},
{"p":["Black, 16, Nongun"],"s":"oL","x":3362,"y":-0.009},
{"p":["Black, 16, Nongun"],"s":"oL","x":3626,"y":-0.002},
{"p":["Black, 20, Nongun"],"s":"oU","x":382,"y":0.006},
{"p":["Black, 20, Nongun"],"s":"oU","x":449,"y":0.026},
{"p":["Black, 20, Nongun"],"s":"oU","x":528,"y":0.066},
{"p":["Black, 20, Nongun"],"s":"oU","x":606,"y":0.136},
{"p":["Black, 20, Nongun"],"s":"oU","x":685,"y":0.226},
{"p":["Black, 20, Nongun"],"s":"oU","x":764,"y":0.296},
{"p":["Black, 20, Nongun"],"s":"oU","x":823,"y":0.311},
{"p":["Black, 20, Nongun"],"s":"oU","x":882,"y":0.316},
{"p":["Black, 20, Nongun"],"s":"oU","x":941,"y":0.314},
{"p":["Black, 20, Nongun"],"s":"oU","x":1000,"y":0.306},
{"p":["Black, 20, Nongun"],"s":"oU","x":1098,"y":0.296},
{"p":["Black, 20, Nongun"],"s":"oU","x":1197,"y":0.286},
{"p":["Black, 20, Nongun"],"s":"oU","x":1295,"y":0.276},
{"p":["Black, 20, Nongun"],"s":"oU","x":1394,"y":0.266},
{"p":["Black, 20, Nongun"],"s":"oU","x":1472,"y":0.254},
{"p":["Black, 20, Nongun"],"s":"oU","x":1551,"y":0.231},
{"p":["Black, 20, Nongun"],"s":"oU","x":1630,"y":0.206},
{"p":["Black, 20, Nongun"],"s":"oU","x":1709,"y":0.181},
{"p":["Black, 20, Nongun"],"s":"oU","x":1787,"y":0.156},
{"p":["Black, 20, Nongun"],"s":"oU","x":1886,"y":0.126},
{"p":["Black, 20, Nongun"],"s":"oU","x":1984,"y":0.096},
{"p":["Black, 20, Nongun"],"s":"oU","x":2083,"y":0.076},
{"p":["Black, 20, Nongun"],"s":"oU","x":2181,"y":0.056},
{"p":["Black, 20, Nongun"],"s":"oU","x":2280,"y":0.026},
{"p":["Black, 20, Nongun"],"s":"oU","x":2358,"y":0.011},
{"p":["Black, 20, Nongun"],"s":"oU","x":2476,"y":0.011},
{"p":["Black, 20, Nongun"],"s":"oU","x":2575,"y":0.011},
{"p":["Black, 20, Nongun"],"s":"oU","x":2673,"y":0.008},
{"p":["Black, 20, Nongun"],"s":"oU","x":2772,"y":0.006},
{"p":["Black, 20, Nongun"],"s":"oU","x":2969,"y":0.004},
{"p":["Black, 20, Nongun"],"s":"oU","x":3165,"y":0.002},
{"p":["Black, 20, Nongun"],"s":"oU","x":3362,"y":0.001},
{"p":["Black, 20, Nongun"],"s":"oU","x":3626,"y":0.000},
{"p":["Black, 20, Nongun"],"s":"oL","x":382,"y":-0.059},
{"p":["Black, 20, Nongun"],"s":"oL","x":449,"y":-0.084},
{"p":["Black, 20, Nongun"],"s":"oL","x":528,"y":-0.114},
{"p":["Black, 20, Nongun"],"s":"oL","x":606,"y":-0.144},
{"p":["Black, 20, Nongun"],"s":"oL","x":685,"y":-0.174},
{"p":["Black, 20, Nongun"],"s":"oL","x":764,"y":-0.199},
{"p":["Black, 20, Nongun"],"s":"oL","x":843,"y":-0.210},
{"p":["Black, 20, Nongun"],"s":"oL","x":941,"y":-0.206},
{"p":["Black, 20, Nongun"],"s":"oL","x":1039,"y":-0.199},
{"p":["Black, 20, Nongun"],"s":"oL","x":1138,"y":-0.199},
{"p":["Black, 20, Nongun"],"s":"oL","x":1236,"y":-0.214},
{"p":["Black, 20, Nongun"],"s":"oL","x":1335,"y":-0.234},
{"p":["Black, 20, Nongun"],"s":"oL","x":1433,"y":-0.249},
{"p":["Black, 20, Nongun"],"s":"oL","x":1531,"y":-0.259},
{"p":["Black, 20, Nongun"],"s":"oL","x":1591,"y":-0.260},
{"p":["Black, 20, Nongun"],"s":"oL","x":1669,"y":-0.252},
{"p":["Black, 20, Nongun"],"s":"oL","x":1748,"y":-0.234},
{"p":["Black, 20, Nongun"],"s":"oL","x":1827,"y":-0.214},
{"p":["Black, 20, Nongun"],"s":"oL","x":1906,"y":-0.194},
{"p":["Black, 20, Nongun"],"s":"oL","x":1984,"y":-0.174},
{"p":["Black, 20, Nongun"],"s":"oL","x":2083,"y":-0.149},
{"p":["Black, 20, Nongun"],"s":"oL","x":2181,"y":-0.124},
{"p":["Black, 20, Nongun"],"s":"oL","x":2280,"y":-0.099},
{"p":["Black, 20, Nongun"],"s":"oL","x":2378,"y":-0.074},
{"p":["Black, 20, Nongun"],"s":"oL","x":2476,"y":-0.049},
{"p":["Black, 20, Nongun"],"s":"oL","x":2575,"y":-0.032},
{"p":["Black, 20, Nongun"],"s":"oL","x":2673,"y":-0.024},
{"p":["Black, 20, Nongun"],"s":"oL","x":2772,"y":-0.021},
{"p":["Black, 20, Nongun"],"s":"oL","x":2969,"y":-0.018},
{"p":["Black, 20, Nongun"],"s":"oL","x":3165,"y":-0.014},
{"p":["Black, 20, Nongun"],"s":"oL","x":3362,"y":-0.008},
{"p":["Black, 20, Nongun"],"s":"oL","x":3626,"y":-0.002},
{"p":["None, 12, Nongun"],"s":"oU","x":382,"y":0.011},
{"p":["None, 12, Nongun"],"s":"oU","x":449,"y":0.046},
{"p":["None, 12, Nongun"],"s":"oU","x":528,"y":0.116},
{"p":["None, 12, Nongun"],"s":"oU","x":606,"y":0.201},
{"p":["None, 12, Nongun"],"s":"oU","x":685,"y":0.286},
{"p":["None, 12, Nongun"],"s":"oU","x":764,"y":0.341},
{"p":["None, 12, Nongun"],"s":"oU","x":835,"y":0.354},
{"p":["None, 12, Nongun"],"s":"oU","x":882,"y":0.341},
{"p":["None, 12, Nongun"],"s":"oU","x":961,"y":0.311},
{"p":["None, 12, Nongun"],"s":"oU","x":1039,"y":0.288},
{"p":["None, 12, Nongun"],"s":"oU","x":1118,"y":0.271},
{"p":["None, 12, Nongun"],"s":"oU","x":1197,"y":0.256},
{"p":["None, 12, Nongun"],"s":"oU","x":1295,"y":0.226},
{"p":["None, 12, Nongun"],"s":"oU","x":1394,"y":0.191},
{"p":["None, 12, Nongun"],"s":"oU","x":1492,"y":0.156},
{"p":["None, 12, Nongun"],"s":"oU","x":1591,"y":0.126},
{"p":["None, 12, Nongun"],"s":"oU","x":1689,"y":0.101},
{"p":["None, 12, Nongun"],"s":"oU","x":1787,"y":0.076},
{"p":["None, 12, Nongun"],"s":"oU","x":1886,"y":0.053},
{"p":["None, 12, Nongun"],"s":"oU","x":1984,"y":0.038},
{"p":["None, 12, Nongun"],"s":"oU","x":2083,"y":0.026},
{"p":["None, 12, Nongun"],"s":"oU","x":2181,"y":0.016},
{"p":["None, 12, Nongun"],"s":"oU","x":2280,"y":0.006},
{"p":["None, 12, Nongun"],"s":"oU","x":2378,"y":0.000},
{"p":["None, 12, Nongun"],"s":"oU","x":2476,"y":-0.001},
{"p":["None, 12, Nongun"],"s":"oU","x":2575,"y":0.000},
{"p":["None, 12, Nongun"],"s":"oU","x":2673,"y":0.002},
{"p":["None, 12, Nongun"],"s":"oU","x":2772,"y":0.001},
{"p":["None, 12, Nongun"],"s":"oU","x":2969,"y":-0.001},
{"p":["None, 12, Nongun"],"s":"oU","x":3626,"y":-0.002},
{"p":["None, 12, Nongun"],"s":"oL","x":382,"y":-0.084},
{"p":["None, 12, Nongun"],"s":"oL","x":449,"y":-0.114},
{"p":["None, 12, Nongun"],"s":"oL","x":528,"y":-0.154},
{"p":["None, 12, Nongun"],"s":"oL","x":606,"y":-0.184},
{"p":["None, 12, Nongun"],"s":"oL","x":685,"y":-0.209},
{"p":["None, 12, Nongun"],"s":"oL","x":783,"y":-0.222},
{"p":["None, 12, Nongun"],"s":"oL","x":882,"y":-0.217},
{"p":["None, 12, Nongun"],"s":"oL","x":980,"y":-0.206},
{"p":["None, 12, Nongun"],"s":"oL","x":1079,"y":-0.199},
{"p":["None, 12, Nongun"],"s":"oL","x":1177,"y":-0.194},
{"p":["None, 12, Nongun"],"s":"oL","x":1276,"y":-0.192},
{"p":["None, 12, Nongun"],"s":"oL","x":1394,"y":-0.194},
{"p":["None, 12, Nongun"],"s":"oL","x":1492,"y":-0.196},
{"p":["None, 12, Nongun"],"s":"oL","x":1571,"y":-0.194},
{"p":["None, 12, Nongun"],"s":"oL","x":1650,"y":-0.182},
{"p":["None, 12, Nongun"],"s":"oL","x":1748,"y":-0.166},
{"p":["None, 12, Nongun"],"s":"oL","x":1846,"y":-0.149},
{"p":["None, 12, Nongun"],"s":"oL","x":1945,"y":-0.124},
{"p":["None, 12, Nongun"],"s":"oL","x":2024,"y":-0.099},
{"p":["None, 12, Nongun"],"s":"oL","x":2102,"y":-0.074},
{"p":["None, 12, Nongun"],"s":"oL","x":2181,"y":-0.049},
{"p":["None, 12, Nongun"],"s":"oL","x":2260,"y":-0.031},
{"p":["None, 12, Nongun"],"s":"oL","x":2339,"y":-0.022},
{"p":["None, 12, Nongun"],"s":"oL","x":2457,"y":-0.016},
{"p":["None, 12, Nongun"],"s":"oL","x":2575,"y":-0.011},
{"p":["None, 12, Nongun"],"s":"oL","x":2772,"y":-0.009},
{"p":["None, 12, Nongun"],"s":"oL","x":3165,"y":-0.006},
{"p":["None, 12, Nongun"],"s":"oL","x":3626,"y":-0.004},
{"p":["None, 16, Nongun"],"s":"oU","x":382,"y":0.011},
{"p":["None, 16, Nongun"],"s":"oU","x":449,"y":0.041},
{"p":["None, 16, Nongun"],"s":"oU","x":528,"y":0.106},
{"p":["None, 16, Nongun"],"s":"oU","x":606,"y":0.186},
{"p":["None, 16, Nongun"],"s":"oU","x":685,"y":0.271},
{"p":["None, 16, Nongun"],"s":"oU","x":764,"y":0.316},
{"p":["None, 16, Nongun"],"s":"oU","x":823,"y":0.323},
{"p":["None, 16, Nongun"],"s":"oU","x":882,"y":0.318},
{"p":["None, 16, Nongun"],"s":"oU","x":961,"y":0.311},
{"p":["None, 16, Nongun"],"s":"oU","x":1039,"y":0.304},
{"p":["None, 16, Nongun"],"s":"oU","x":1118,"y":0.294},
{"p":["None, 16, Nongun"],"s":"oU","x":1197,"y":0.281},
{"p":["None, 16, Nongun"],"s":"oU","x":1276,"y":0.266},
{"p":["None, 16, Nongun"],"s":"oU","x":1354,"y":0.246},
{"p":["None, 16, Nongun"],"s":"oU","x":1433,"y":0.221},
{"p":["None, 16, Nongun"],"s":"oU","x":1512,"y":0.196},
{"p":["None, 16, Nongun"],"s":"oU","x":1591,"y":0.169},
{"p":["None, 16, Nongun"],"s":"oU","x":1689,"y":0.136},
{"p":["None, 16, Nongun"],"s":"oU","x":1787,"y":0.106},
{"p":["None, 16, Nongun"],"s":"oU","x":1886,"y":0.081},
{"p":["None, 16, Nongun"],"s":"oU","x":1984,"y":0.058},
{"p":["None, 16, Nongun"],"s":"oU","x":2083,"y":0.046},
{"p":["None, 16, Nongun"],"s":"oU","x":2181,"y":0.034},
{"p":["None, 16, Nongun"],"s":"oU","x":2280,"y":0.021},
{"p":["None, 16, Nongun"],"s":"oU","x":2358,"y":0.011},
{"p":["None, 16, Nongun"],"s":"oU","x":2476,"y":0.008},
{"p":["None, 16, Nongun"],"s":"oU","x":2575,"y":0.008},
{"p":["None, 16, Nongun"],"s":"oU","x":2772,"y":0.008},
{"p":["None, 16, Nongun"],"s":"oU","x":2969,"y":0.004},
{"p":["None, 16, Nongun"],"s":"oU","x":3165,"y":0.001},
{"p":["None, 16, Nongun"],"s":"oU","x":3626,"y":-0.001},
{"p":["None, 16, Nongun"],"s":"oL","x":382,"y":-0.089},
{"p":["None, 16, Nongun"],"s":"oL","x":449,"y":-0.114},
{"p":["None, 16, Nongun"],"s":"oL","x":528,"y":-0.144},
{"p":["None, 16, Nongun"],"s":"oL","x":606,"y":-0.169},
{"p":["None, 16, Nongun"],"s":"oL","x":685,"y":-0.189},
{"p":["None, 16, Nongun"],"s":"oL","x":783,"y":-0.202},
{"p":["None, 16, Nongun"],"s":"oL","x":882,"y":-0.202},
{"p":["None, 16, Nongun"],"s":"oL","x":1000,"y":-0.196},
{"p":["None, 16, Nongun"],"s":"oL","x":1118,"y":-0.191},
{"p":["None, 16, Nongun"],"s":"oL","x":1236,"y":-0.189},
{"p":["None, 16, Nongun"],"s":"oL","x":1315,"y":-0.194},
{"p":["None, 16, Nongun"],"s":"oL","x":1394,"y":-0.204},
{"p":["None, 16, Nongun"],"s":"oL","x":1472,"y":-0.217},
{"p":["None, 16, Nongun"],"s":"oL","x":1571,"y":-0.226},
{"p":["None, 16, Nongun"],"s":"oL","x":1650,"y":-0.224},
{"p":["None, 16, Nongun"],"s":"oL","x":1728,"y":-0.214},
{"p":["None, 16, Nongun"],"s":"oL","x":1827,"y":-0.194},
{"p":["None, 16, Nongun"],"s":"oL","x":1906,"y":-0.174},
{"p":["None, 16, Nongun"],"s":"oL","x":1984,"y":-0.149},
{"p":["None, 16, Nongun"],"s":"oL","x":2063,"y":-0.124},
{"p":["None, 16, Nongun"],"s":"oL","x":2142,"y":-0.094},
{"p":["None, 16, Nongun"],"s":"oL","x":2220,"y":-0.064},
{"p":["None, 16, Nongun"],"s":"oL","x":2299,"y":-0.039},
{"p":["None, 16, Nongun"],"s":"oL","x":2378,"y":-0.027},
{"p":["None, 16, Nongun"],"s":"oL","x":2476,"y":-0.022},
{"p":["None, 16, Nongun"],"s":"oL","x":2575,"y":-0.017},
{"p":["None, 16, Nongun"],"s":"oL","x":2772,"y":-0.013},
{"p":["None, 16, Nongun"],"s":"oL","x":3165,"y":-0.008},
{"p":["None, 16, Nongun"],"s":"oL","x":3626,"y":-0.004},
{"p":["None, 20, Nongun"],"s":"oU","x":382,"y":0.008},
{"p":["None, 20, Nongun"],"s":"oU","x":449,"y":0.036},
{"p":["None, 20, Nongun"],"s":"oU","x":528,"y":0.086},
{"p":["None, 20, Nongun"],"s":"oU","x":606,"y":0.166},
{"p":["None, 20, Nongun"],"s":"oU","x":685,"y":0.251},
{"p":["None, 20, Nongun"],"s":"oU","x":764,"y":0.306},
{"p":["None, 20, Nongun"],"s":"oU","x":823,"y":0.323},
{"p":["None, 20, Nongun"],"s":"oU","x":882,"y":0.318},
{"p":["None, 20, Nongun"],"s":"oU","x":961,"y":0.308},
{"p":["None, 20, Nongun"],"s":"oU","x":1039,"y":0.298},
{"p":["None, 20, Nongun"],"s":"oU","x":1118,"y":0.286},
{"p":["None, 20, Nongun"],"s":"oU","x":1197,"y":0.271},
{"p":["None, 20, Nongun"],"s":"oU","x":1276,"y":0.258},
{"p":["None, 20, Nongun"],"s":"oU","x":1354,"y":0.246},
{"p":["None, 20, Nongun"],"s":"oU","x":1433,"y":0.231},
{"p":["None, 20, Nongun"],"s":"oU","x":1512,"y":0.216},
{"p":["None, 20, Nongun"],"s":"oU","x":1591,"y":0.204},
{"p":["None, 20, Nongun"],"s":"oU","x":1669,"y":0.191},
{"p":["None, 20, Nongun"],"s":"oU","x":1748,"y":0.176},
{"p":["None, 20, Nongun"],"s":"oU","x":1827,"y":0.146},
{"p":["None, 20, Nongun"],"s":"oU","x":1906,"y":0.121},
{"p":["None, 20, Nongun"],"s":"oU","x":1984,"y":0.096},
{"p":["None, 20, Nongun"],"s":"oU","x":2083,"y":0.071},
{"p":["None, 20, Nongun"],"s":"oU","x":2181,"y":0.048},
{"p":["None, 20, Nongun"],"s":"oU","x":2260,"y":0.031},
{"p":["None, 20, Nongun"],"s":"oU","x":2339,"y":0.013},
{"p":["None, 20, Nongun"],"s":"oU","x":2417,"y":0.011},
{"p":["None, 20, Nongun"],"s":"oU","x":2535,"y":0.011},
{"p":["None, 20, Nongun"],"s":"oU","x":2654,"y":0.008},
{"p":["None, 20, Nongun"],"s":"oU","x":2772,"y":0.003},
{"p":["None, 20, Nongun"],"s":"oU","x":2969,"y":0.001},
{"p":["None, 20, Nongun"],"s":"oU","x":3626,"y":-0.001},
{"p":["None, 20, Nongun"],"s":"oL","x":382,"y":-0.064},
{"p":["None, 20, Nongun"],"s":"oL","x":449,"y":-0.089},
{"p":["None, 20, Nongun"],"s":"oL","x":528,"y":-0.119},
{"p":["None, 20, Nongun"],"s":"oL","x":606,"y":-0.149},
{"p":["None, 20, Nongun"],"s":"oL","x":685,"y":-0.179},
{"p":["None, 20, Nongun"],"s":"oL","x":764,"y":-0.194},
{"p":["None, 20, Nongun"],"s":"oL","x":862,"y":-0.202},
{"p":["None, 20, Nongun"],"s":"oL","x":980,"y":-0.204},
{"p":["None, 20, Nongun"],"s":"oL","x":1079,"y":-0.206},
{"p":["None, 20, Nongun"],"s":"oL","x":1177,"y":-0.211},
{"p":["None, 20, Nongun"],"s":"oL","x":1276,"y":-0.222},
{"p":["None, 20, Nongun"],"s":"oL","x":1374,"y":-0.231},
{"p":["None, 20, Nongun"],"s":"oL","x":1472,"y":-0.237},
{"p":["None, 20, Nongun"],"s":"oL","x":1571,"y":-0.236},
{"p":["None, 20, Nongun"],"s":"oL","x":1669,"y":-0.229},
{"p":["None, 20, Nongun"],"s":"oL","x":1768,"y":-0.214},
{"p":["None, 20, Nongun"],"s":"oL","x":1866,"y":-0.194},
{"p":["None, 20, Nongun"],"s":"oL","x":1965,"y":-0.169},
{"p":["None, 20, Nongun"],"s":"oL","x":2063,"y":-0.139},
{"p":["None, 20, Nongun"],"s":"oL","x":2142,"y":-0.114},
{"p":["None, 20, Nongun"],"s":"oL","x":2220,"y":-0.089},
{"p":["None, 20, Nongun"],"s":"oL","x":2299,"y":-0.069},
{"p":["None, 20, Nongun"],"s":"oL","x":2398,"y":-0.052},
{"p":["None, 20, Nongun"],"s":"oL","x":2496,"y":-0.042},
{"p":["None, 20, Nongun"],"s":"oL","x":2575,"y":-0.036},
{"p":["None, 20, Nongun"],"s":"oL","x":2772,"y":-0.032},
{"p":["None, 20, Nongun"],"s":"oL","x":2969,"y":-0.026},
{"p":["None, 20, Nongun"],"s":"oL","x":3165,"y":-0.022},
{"p":["None, 20, Nongun"],"s":"oL","x":3362,"y":-0.016},
{"p":["None, 20, Nongun"],"s":"oL","x":3626,"y":-0.004},
{"p":["White, 12, Nongun"],"s":"oU","x":382,"y":0.011},
{"p":["White, 12, Nongun"],"s":"oU","x":449,"y":0.046},
{"p":["White, 12, Nongun"],"s":"oU","x":528,"y":0.116},
{"p":["White, 12, Nongun"],"s":"oU","x":606,"y":0.206},
{"p":["White, 12, Nongun"],"s":"oU","x":685,"y":0.286},
{"p":["White, 12, Nongun"],"s":"oU","x":764,"y":0.336},
{"p":["White, 12, Nongun"],"s":"oU","x":835,"y":0.346},
{"p":["White, 12, Nongun"],"s":"oU","x":902,"y":0.338},
{"p":["White, 12, Nongun"],"s":"oU","x":980,"y":0.318},
{"p":["White, 12, Nongun"],"s":"oU","x":1059,"y":0.301},
{"p":["White, 12, Nongun"],"s":"oU","x":1138,"y":0.284},
{"p":["White, 12, Nongun"],"s":"oU","x":1217,"y":0.266},
{"p":["White, 12, Nongun"],"s":"oU","x":1295,"y":0.241},
{"p":["White, 12, Nongun"],"s":"oU","x":1394,"y":0.211},
{"p":["White, 12, Nongun"],"s":"oU","x":1492,"y":0.176},
{"p":["White, 12, Nongun"],"s":"oU","x":1591,"y":0.146},
{"p":["White, 12, Nongun"],"s":"oU","x":1689,"y":0.116},
{"p":["White, 12, Nongun"],"s":"oU","x":1787,"y":0.091},
{"p":["White, 12, Nongun"],"s":"oU","x":1886,"y":0.064},
{"p":["White, 12, Nongun"],"s":"oU","x":1984,"y":0.048},
{"p":["White, 12, Nongun"],"s":"oU","x":2083,"y":0.038},
{"p":["White, 12, Nongun"],"s":"oU","x":2181,"y":0.026},
{"p":["White, 12, Nongun"],"s":"oU","x":2280,"y":0.014},
{"p":["White, 12, Nongun"],"s":"oU","x":2378,"y":0.008},
{"p":["White, 12, Nongun"],"s":"oU","x":2476,"y":0.004},
{"p":["White, 12, Nongun"],"s":"oU","x":2575,"y":0.002},
{"p":["White, 12, Nongun"],"s":"oU","x":2772,"y":-0.002},
{"p":["White, 12, Nongun"],"s":"oU","x":2969,"y":-0.004},
{"p":["White, 12, Nongun"],"s":"oU","x":3626,"y":-0.002},
{"p":["White, 12, Nongun"],"s":"oL","x":382,"y":-0.084},
{"p":["White, 12, Nongun"],"s":"oL","x":449,"y":-0.124},
{"p":["White, 12, Nongun"],"s":"oL","x":528,"y":-0.164},
{"p":["White, 12, Nongun"],"s":"oL","x":606,"y":-0.204},
{"p":["White, 12, Nongun"],"s":"oL","x":665,"y":-0.224},
{"p":["White, 12, Nongun"],"s":"oL","x":724,"y":-0.234},
{"p":["White, 12, Nongun"],"s":"oL","x":783,"y":-0.226},
{"p":["White, 12, Nongun"],"s":"oL","x":862,"y":-0.214},
{"p":["White, 12, Nongun"],"s":"oL","x":941,"y":-0.194},
{"p":["White, 12, Nongun"],"s":"oL","x":1000,"y":-0.184},
{"p":["White, 12, Nongun"],"s":"oL","x":1079,"y":-0.182},
{"p":["White, 12, Nongun"],"s":"oL","x":1177,"y":-0.186},
{"p":["White, 12, Nongun"],"s":"oL","x":1276,"y":-0.189},
{"p":["White, 12, Nongun"],"s":"oL","x":1394,"y":-0.189},
{"p":["White, 12, Nongun"],"s":"oL","x":1492,"y":-0.181},
{"p":["White, 12, Nongun"],"s":"oL","x":1591,"y":-0.169},
{"p":["White, 12, Nongun"],"s":"oL","x":1689,"y":-0.156},
{"p":["White, 12, Nongun"],"s":"oL","x":1787,"y":-0.142},
{"p":["White, 12, Nongun"],"s":"oL","x":1886,"y":-0.129},
{"p":["White, 12, Nongun"],"s":"oL","x":1984,"y":-0.114},
{"p":["White, 12, Nongun"],"s":"oL","x":2083,"y":-0.099},
{"p":["White, 12, Nongun"],"s":"oL","x":2181,"y":-0.084},
{"p":["White, 12, Nongun"],"s":"oL","x":2280,"y":-0.064},
{"p":["White, 12, Nongun"],"s":"oL","x":2378,"y":-0.039},
{"p":["White, 12, Nongun"],"s":"oL","x":2476,"y":-0.019},
{"p":["White, 12, Nongun"],"s":"oL","x":2575,"y":-0.009},
{"p":["White, 12, Nongun"],"s":"oL","x":2772,"y":-0.006},
{"p":["White, 12, Nongun"],"s":"oL","x":2969,"y":-0.007},
{"p":["White, 12, Nongun"],"s":"oL","x":3165,"y":-0.004},
{"p":["White, 12, Nongun"],"s":"oL","x":3626,"y":-0.002},
{"p":["White, 16, Nongun"],"s":"oU","x":382,"y":0.011},
{"p":["White, 16, Nongun"],"s":"oU","x":449,"y":0.046},
{"p":["White, 16, Nongun"],"s":"oU","x":528,"y":0.116},
{"p":["White, 16, Nongun"],"s":"oU","x":606,"y":0.201},
{"p":["White, 16, Nongun"],"s":"oU","x":685,"y":0.276},
{"p":["White, 16, Nongun"],"s":"oU","x":764,"y":0.321},
{"p":["White, 16, Nongun"],"s":"oU","x":823,"y":0.328},
{"p":["White, 16, Nongun"],"s":"oU","x":882,"y":0.321},
{"p":["White, 16, Nongun"],"s":"oU","x":961,"y":0.314},
{"p":["White, 16, Nongun"],"s":"oU","x":1039,"y":0.306},
{"p":["White, 16, Nongun"],"s":"oU","x":1118,"y":0.298},
{"p":["White, 16, Nongun"],"s":"oU","x":1197,"y":0.281},
{"p":["White, 16, Nongun"],"s":"oU","x":1276,"y":0.261},
{"p":["White, 16, Nongun"],"s":"oU","x":1354,"y":0.236},
{"p":["White, 16, Nongun"],"s":"oU","x":1433,"y":0.211},
{"p":["White, 16, Nongun"],"s":"oU","x":1512,"y":0.186},
{"p":["White, 16, Nongun"],"s":"oU","x":1591,"y":0.163},
{"p":["White, 16, Nongun"],"s":"oU","x":1689,"y":0.136},
{"p":["White, 16, Nongun"],"s":"oU","x":1787,"y":0.111},
{"p":["White, 16, Nongun"],"s":"oU","x":1886,"y":0.091},
{"p":["White, 16, Nongun"],"s":"oU","x":1984,"y":0.071},
{"p":["White, 16, Nongun"],"s":"oU","x":2083,"y":0.051},
{"p":["White, 16, Nongun"],"s":"oU","x":2181,"y":0.034},
{"p":["White, 16, Nongun"],"s":"oU","x":2280,"y":0.018},
{"p":["White, 16, Nongun"],"s":"oU","x":2358,"y":0.008},
{"p":["White, 16, Nongun"],"s":"oU","x":2476,"y":0.006},
{"p":["White, 16, Nongun"],"s":"oU","x":2575,"y":0.006},
{"p":["White, 16, Nongun"],"s":"oU","x":2772,"y":0.004},
{"p":["White, 16, Nongun"],"s":"oU","x":2969,"y":0.003},
{"p":["White, 16, Nongun"],"s":"oU","x":3165,"y":0.000},
{"p":["White, 16, Nongun"],"s":"oU","x":3626,"y":-0.001},
{"p":["White, 16, Nongun"],"s":"oL","x":382,"y":-0.059},
{"p":["White, 16, Nongun"],"s":"oL","x":449,"y":-0.079},
{"p":["White, 16, Nongun"],"s":"oL","x":528,"y":-0.114},
{"p":["White, 16, Nongun"],"s":"oL","x":606,"y":-0.144},
{"p":["White, 16, Nongun"],"s":"oL","x":685,"y":-0.169},
{"p":["White, 16, Nongun"],"s":"oL","x":783,"y":-0.192},
{"p":["White, 16, Nongun"],"s":"oL","x":882,"y":-0.206},
{"p":["White, 16, Nongun"],"s":"oL","x":980,"y":-0.212},
{"p":["White, 16, Nongun"],"s":"oL","x":1059,"y":-0.214},
{"p":["White, 16, Nongun"],"s":"oL","x":1157,"y":-0.222},
{"p":["White, 16, Nongun"],"s":"oL","x":1256,"y":-0.229},
{"p":["White, 16, Nongun"],"s":"oL","x":1354,"y":-0.232},
{"p":["White, 16, Nongun"],"s":"oL","x":1453,"y":-0.229},
{"p":["White, 16, Nongun"],"s":"oL","x":1551,"y":-0.222},
{"p":["White, 16, Nongun"],"s":"oL","x":1650,"y":-0.214},
{"p":["White, 16, Nongun"],"s":"oL","x":1748,"y":-0.202},
{"p":["White, 16, Nongun"],"s":"oL","x":1846,"y":-0.186},
{"p":["White, 16, Nongun"],"s":"oL","x":1945,"y":-0.164},
{"p":["White, 16, Nongun"],"s":"oL","x":2024,"y":-0.139},
{"p":["White, 16, Nongun"],"s":"oL","x":2102,"y":-0.112},
{"p":["White, 16, Nongun"],"s":"oL","x":2181,"y":-0.084},
{"p":["White, 16, Nongun"],"s":"oL","x":2260,"y":-0.059},
{"p":["White, 16, Nongun"],"s":"oL","x":2339,"y":-0.039},
{"p":["White, 16, Nongun"],"s":"oL","x":2417,"y":-0.029},
{"p":["White, 16, Nongun"],"s":"oL","x":2535,"y":-0.021},
{"p":["White, 16, Nongun"],"s":"oL","x":2654,"y":-0.014},
{"p":["White, 16, Nongun"],"s":"oL","x":2772,"y":-0.012},
{"p":["White, 16, Nongun"],"s":"oL","x":2969,"y":-0.012},
{"p":["White, 16, Nongun"],"s":"oL","x":3165,"y":-0.010},
{"p":["White, 16, Nongun"],"s":"oL","x":3626,"y":-0.006},
{"p":["White, 20, Nongun"],"s":"oU","x":382,"y":0.008},
{"p":["White, 20, Nongun"],"s":"oU","x":449,"y":0.036},
{"p":["White, 20, Nongun"],"s":"oU","x":528,"y":0.086},
{"p":["White, 20, Nongun"],"s":"oU","x":606,"y":0.166},
{"p":["White, 20, Nongun"],"s":"oU","x":685,"y":0.241},
{"p":["White, 20, Nongun"],"s":"oU","x":764,"y":0.291},
{"p":["White, 20, Nongun"],"s":"oU","x":843,"y":0.306},
{"p":["White, 20, Nongun"],"s":"oU","x":941,"y":0.308},
{"p":["White, 20, Nongun"],"s":"oU","x":1039,"y":0.311},
{"p":["White, 20, Nongun"],"s":"oU","x":1118,"y":0.311},
{"p":["White, 20, Nongun"],"s":"oU","x":1197,"y":0.296},
{"p":["White, 20, Nongun"],"s":"oU","x":1276,"y":0.276},
{"p":["White, 20, Nongun"],"s":"oU","x":1354,"y":0.266},
{"p":["White, 20, Nongun"],"s":"oU","x":1433,"y":0.258},
{"p":["White, 20, Nongun"],"s":"oU","x":1512,"y":0.246},
{"p":["White, 20, Nongun"],"s":"oU","x":1591,"y":0.221},
{"p":["White, 20, Nongun"],"s":"oU","x":1669,"y":0.196},
{"p":["White, 20, Nongun"],"s":"oU","x":1748,"y":0.168},
{"p":["White, 20, Nongun"],"s":"oU","x":1827,"y":0.141},
{"p":["White, 20, Nongun"],"s":"oU","x":1906,"y":0.116},
{"p":["White, 20, Nongun"],"s":"oU","x":1984,"y":0.094},
{"p":["White, 20, Nongun"],"s":"oU","x":2083,"y":0.071},
{"p":["White, 20, Nongun"],"s":"oU","x":2181,"y":0.048},
{"p":["White, 20, Nongun"],"s":"oU","x":2260,"y":0.031},
{"p":["White, 20, Nongun"],"s":"oU","x":2358,"y":0.014},
{"p":["White, 20, Nongun"],"s":"oU","x":2476,"y":0.012},
{"p":["White, 20, Nongun"],"s":"oU","x":2575,"y":0.012},
{"p":["White, 20, Nongun"],"s":"oU","x":2772,"y":0.014},
{"p":["White, 20, Nongun"],"s":"oU","x":2969,"y":0.006},
{"p":["White, 20, Nongun"],"s":"oU","x":3165,"y":0.001},
{"p":["White, 20, Nongun"],"s":"oU","x":3626,"y":-0.002},
{"p":["White, 20, Nongun"],"s":"oL","x":382,"y":-0.054},
{"p":["White, 20, Nongun"],"s":"oL","x":449,"y":-0.079},
{"p":["White, 20, Nongun"],"s":"oL","x":528,"y":-0.114},
{"p":["White, 20, Nongun"],"s":"oL","x":606,"y":-0.144},
{"p":["White, 20, Nongun"],"s":"oL","x":685,"y":-0.169},
{"p":["White, 20, Nongun"],"s":"oL","x":783,"y":-0.189},
{"p":["White, 20, Nongun"],"s":"oL","x":882,"y":-0.199},
{"p":["White, 20, Nongun"],"s":"oL","x":980,"y":-0.202},
{"p":["White, 20, Nongun"],"s":"oL","x":1079,"y":-0.206},
{"p":["White, 20, Nongun"],"s":"oL","x":1177,"y":-0.214},
{"p":["White, 20, Nongun"],"s":"oL","x":1276,"y":-0.229},
{"p":["White, 20, Nongun"],"s":"oL","x":1374,"y":-0.246},
{"p":["White, 20, Nongun"],"s":"oL","x":1472,"y":-0.256},
{"p":["White, 20, Nongun"],"s":"oL","x":1551,"y":-0.256},
{"p":["White, 20, Nongun"],"s":"oL","x":1630,"y":-0.246},
{"p":["White, 20, Nongun"],"s":"oL","x":1728,"y":-0.224},
{"p":["White, 20, Nongun"],"s":"oL","x":1827,"y":-0.199},
{"p":["White, 20, Nongun"],"s":"oL","x":1925,"y":-0.174},
{"p":["White, 20, Nongun"],"s":"oL","x":2024,"y":-0.146},
{"p":["White, 20, Nongun"],"s":"oL","x":2122,"y":-0.119},
{"p":["White, 20, Nongun"],"s":"oL","x":2220,"y":-0.089},
{"p":["White, 20, Nongun"],"s":"oL","x":2299,"y":-0.069},
{"p":["White, 20, Nongun"],"s":"oL","x":2398,"y":-0.052},
{"p":["White, 20, Nongun"],"s":"oL","x":2496,"y":-0.046},
{"p":["White, 20, Nongun"],"s":"oL","x":2614,"y":-0.044},
{"p":["White, 20, Nongun"],"s":"oL","x":2772,"y":-0.039},
{"p":["White, 20, Nongun"],"s":"oL","x":2969,"y":-0.034},
{"p":["White, 20, Nongun"],"s":"oL","x":3165,"y":-0.029},
{"p":["White, 20, Nongun"],"s":"oL","x":3362,"y":-0.019},
{"p":["White, 20, Nongun"],"s":"oL","x":3626,"y":-0.004}
]},
"transform":[{"flatten":["p"]}],
"facet":{"field":"p","type":"nominal","title":null,"header":{"labelFontSize":34,"labelFont":"Liberation Sans","labelColor":"black","labelPadding":18}},
"columns":3,
"spacing":{"row":158,"column":75},
"bounds":"flush",
"resolve":{"axis":{"x":"independent","y":"independent"}},
"spec":{
"width":275,"height":308,
"layer":[
{"transform":[{"filter":"datum.s === 'mU' || datum.s === 'mL'"}],
 "mark":{"type":"area","color":"#D4D4D4","interpolate":"monotone","clip":true},
 "encoding":{
  "x":{"field":"x","type":"quantitative","title":"Response Time (ms)","scale":{"domain":[380,3628],"nice":false,"zero":false},"axis":{"values":[1000,2000,3000],"format":"d"}},
  "y":{"field":"lo","type":"quantitative","title":"Density","scale":{"domain":[-0.4805,0.4435],"nice":false,"zero":false}},
  "y2":{"field":"hi"},
  "detail":{"field":"s"}}},
{"transform":[{"filter":"datum.s === 'mU' || datum.s === 'mL'"}],
 "mark":{"type":"line","color":"#C0C0C0","strokeWidth":2,"interpolate":"monotone","clip":true},
 "encoding":{
  "x":{"field":"x","type":"quantitative","title":"Response Time (ms)"},
  "y":{"field":"y","type":"quantitative","title":"Density"},
  "detail":{"field":"s"}}},
{"transform":[{"filter":"datum.s === 'oU' && datum.x === 382"}],
 "mark":{"type":"rule","color":"black","strokeWidth":2,"strokeDash":[8,5]},
 "encoding":{"y":{"datum":0,"type":"quantitative","title":"Density"}}},
{"transform":[{"filter":"datum.s === 'oU' || datum.s === 'oL'"}],
 "mark":{"type":"line","color":"black","strokeWidth":3.8,"interpolate":"monotone","clip":true},
 "encoding":{
  "x":{"field":"x","type":"quantitative","title":"Response Time (ms)"},
  "y":{"field":"y","type":"quantitative","title":"Density"},
  "detail":{"field":"s"}}}
]},
"config":{
 "font":"Liberation Sans",
 "view":{"stroke":"black","strokeWidth":5},
 "axis":{"grid":false,"domain":false,"titleFontWeight":"normal","titleColor":"black","titleFont":"Liberation Sans","labelFont":"Liberation Sans"},
 "axisX":{"tickColor":"#333333","tickWidth":2,"tickSize":11,"labelFontSize":27,"labelColor":"#4D4D4D","labelPadding":7,"titleFontSize":29,"titlePadding":6},
 "axisY":{"titleFontSize":29,"titlePadding":17,"labels":false,"ticks":false}
}
}
